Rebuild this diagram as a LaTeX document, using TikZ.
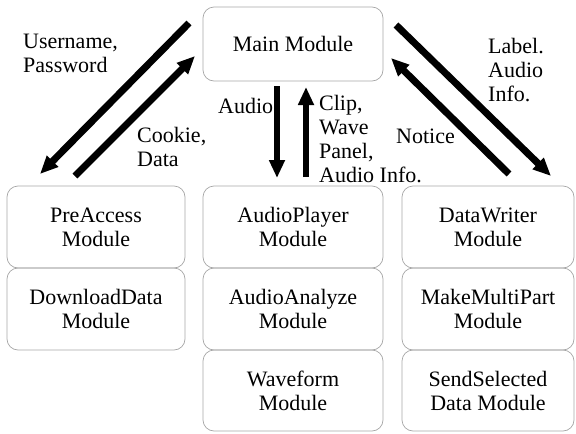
\documentclass[tikz,border=0pt]{standalone}
\usepackage{fontspec}
\setmainfont{Liberation Serif}
\usetikzlibrary{arrows.meta}
\begin{document}
\begin{tikzpicture}[x=1pt,y=-1pt,
  txt/.style={font=\fontsize{22}{24}\selectfont},
  module/.style={txt, draw=black!35, line width=0.7pt, rounded corners=11pt,
                 align=center, inner sep=0pt},
  lbl/.style={txt, anchor=west, align=left, inner sep=0pt},
  flow/.style={line width=7pt, -{Triangle[length=18pt,width=15pt]}},
  vflow/.style={line width=6pt, -{Triangle[length=18pt,width=15pt]}}]
\useasboundingbox (0,0) rectangle (576,434);

% central module
\node[module, minimum width=180pt, minimum height=74pt] (main) at (293,44) {Main Module};

% left column
\node[module, minimum width=178pt, minimum height=82pt] (pre)  at (96,227) {PreAccess\\Module};
\node[module, minimum width=178pt, minimum height=82pt] (down) at (96,309) {DownloadData\\Module};

% middle column
\node[module, minimum width=180pt, minimum height=82pt] (play) at (293,227) {AudioPlayer\\Module};
\node[module, minimum width=180pt, minimum height=82pt] (anal) at (293,309) {AudioAnalyze\\Module};
\node[module, minimum width=180pt, minimum height=81pt] (wave) at (293,390.5) {Waveform\\Module};

% right column
\node[module, minimum width=172pt, minimum height=82pt] (writ) at (488,227) {DataWriter\\Module};
\node[module, minimum width=172pt, minimum height=82pt] (mult) at (488,309) {MakeMultiPart\\Module};
\node[module, minimum width=172pt, minimum height=81pt] (send) at (488,390.5) {SendSelected\\Data Module};

% arrow end points
\coordinate (u1) at (189,23);  \coordinate (u2) at (40,174);
\coordinate (c1) at (75,176);  \coordinate (c2) at (195,56);
\coordinate (a1) at (277,86);  \coordinate (a2) at (277,178);
\coordinate (p1) at (306,177); \coordinate (p2) at (306,87);
\coordinate (l1) at (396,25);  \coordinate (l2) at (551,176);
\coordinate (n1) at (509,174); \coordinate (n2) at (391,58);

\draw[flow]  (u1) -- (u2);
\draw[flow]  (c1) -- (c2);
\draw[vflow] (a1) -- (a2);
\draw[vflow] (p1) -- (p2);
\draw[flow]  (l1) -- (l2);
\draw[flow]  (n1) -- (n2);

% flow labels
\node[lbl] (tuser)   at (23,53)    {Username,\\Password};
\node[lbl] (tcookie) at (137,147)  {Cookie,\\Data};
\node[lbl] (taudio)  at (218,106)  {Audio};
\node[lbl] (tclip)   at (319,139.5) {Clip,\\Wave\\Panel,\\Audio Info.};
\node[lbl] (tlabel)  at (488,70)   {Label.\\Audio\\Info.};
\node[lbl] (tnotice) at (396,136)  {Notice};
\end{tikzpicture}
\end{document}
